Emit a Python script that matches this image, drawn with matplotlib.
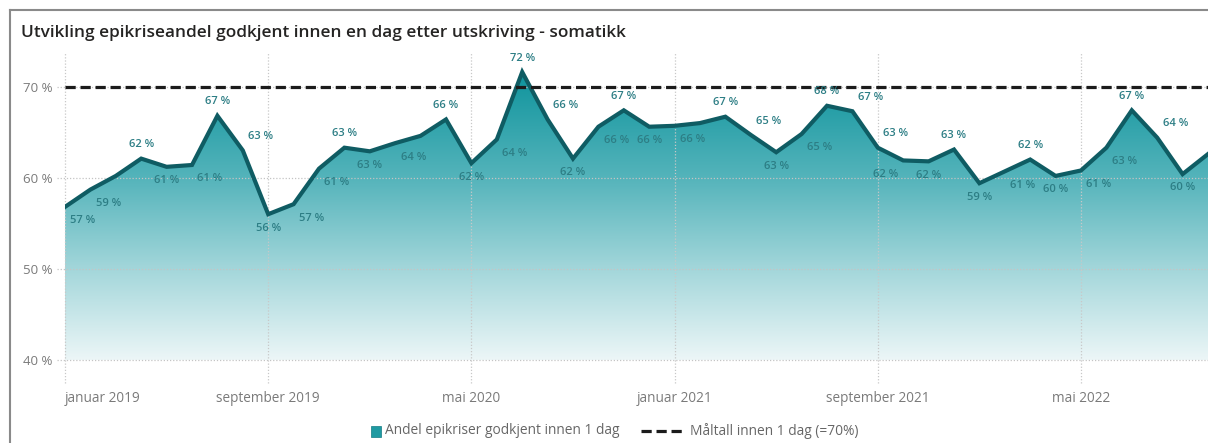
import numpy as np
import matplotlib.pyplot as plt
from matplotlib.colors import LinearSegmentedColormap
from matplotlib.lines import Line2D
from matplotlib.patches import Rectangle

plt.rcParams['font.family'] = ['Open Sans', 'DejaVu Sans']

# månedlig andel epikriser godkjent innen 1 dag (%), jan 2019 - okt 2022
mnd_navn = ["januar", "februar", "mars", "april", "mai", "juni", "juli",
            "august", "september", "oktober", "november", "desember"]
maaneder = [f"{m} {aar}" for aar in (2019, 2020, 2021, 2022) for m in mnd_navn][:46]
andel = [56.8, 58.7, 60.2, 62.1, 61.2, 61.4, 66.8, 63.0, 56.0, 57.1, 61.0, 63.3,
         62.9, 63.8, 64.6, 66.4, 61.6, 64.2, 71.6, 66.4, 62.1, 65.6, 67.4, 65.6,
         65.7, 66.0, 66.7, 64.7, 62.8, 64.8, 67.9, 67.3, 63.3, 61.9, 61.8, 63.1,
         59.4, 60.7, 62.0, 60.2, 60.8, 63.3, 67.4, 64.4, 60.4, 62.6]
# hvor dataetiketten står: a=over, b=under, r=forskjøvet mot høyre, l=mot venstre
etikett = ["br", "br", "", "a", "b", "br", "a", "ar", "b", "br", "br", "a",
           "b", "br", "", "a", "b", "br", "a", "ar", "b", "br", "a", "b",
           "br", "", "a", "ar", "b", "br", "a", "ar", "ar", "bl", "b", "a",
           "b", "br", "a", "b", "br", "br", "a", "ar", "b", ""]
maal = 70
x_ticks = [0, 8, 16, 24, 32, 40]
y_ticks = [40, 50, 60, 70]
serie_navn = ["Andel epikriser godkjent innen 1 dag", "Måltall innen 1 dag (=70%)"]

W, H = 1208, 443
fig = plt.figure(figsize=(W / 100, H / 100), dpi=100)
ax = fig.add_axes([65 / W, 1 - 360 / H, (1208 - 65) / W, (360 - 52) / H])

x = np.arange(len(andel))
ymin, ymax = 40, 73.8
ax.set_xlim(0, len(andel) - 1)
ax.set_ylim(ymin, ymax)

# gradientfyll under kurven
fyll = ax.fill_between(x, andel, ymin, color='none', lw=0)
cmap = LinearSegmentedColormap.from_list(
    'g', [(0, '#ecf6f7'), (0.32, '#a2d6da'), (0.63, '#55b4bb'), (1, '#0f949d')])
grad = np.linspace(0, 1, 256).reshape(-1, 1)
im = ax.imshow(grad, extent=[0, len(andel) - 1, ymin, max(andel)], origin='lower',
               cmap=cmap, aspect='auto', zorder=1, interpolation='bilinear')
im.set_clip_path(fyll.get_paths()[0], transform=ax.transData)

ax.plot(x, andel, color='#0f5c63', lw=3, zorder=4, solid_joinstyle='miter')
ax.axhline(maal, color='#1b1b1b', lw=2.3, dashes=(3.2, 1.5), zorder=5)

# rutenett
for yv in y_ticks:
    ax.axhline(yv, xmin=-8 / 1143, xmax=1, color='#c4c4c4', lw=0.9, ls=(0, (1, 1.5)),
               zorder=2, clip_on=False)
for xv in x_ticks:
    ax.axvline(xv, ymin=-23 / 308, ymax=1, color='#c8c8c8', lw=0.9, ls=(0, (1, 1.5)),
               zorder=2, clip_on=False)

ax.set_yticks(y_ticks)
ax.set_yticklabels([f"{v} %" for v in y_ticks], color='#7a7a7a', fontsize=9.5)
ax.set_xticks(x_ticks)
ax.set_xticklabels([maaneder[i] for i in x_ticks], color='#7a7a7a', fontsize=9.8)
ax.tick_params(axis='y', length=0, pad=9)
ax.tick_params(axis='x', length=0, pad=22)
ax.get_xticklabels()[0].set_horizontalalignment('left')
for s in ax.spines.values():
    s.set_visible(False)

# dataetiketter
for i, (v, pos) in enumerate(zip(andel, etikett)):
    if not pos:
        continue
    dy = 10 if 'a' in pos else -10
    dx = 13 if 'r' in pos else (-13 if 'l' in pos else 0)
    ax.annotate(f"{round(v)} %", (i, v), xytext=(dx, dy), textcoords='offset points',
                ha='center', va='center', fontsize=8, fontweight='semibold',
                color='#2d7e85', zorder=6, annotation_clip=False)

fig.text(21 / W, 1 - 33 / H,
         "Utvikling epikriseandel godkjent innen en dag etter utskriving - somatikk",
         fontsize=12.4, fontweight='semibold', color='#252423', va='center', ha='left')

# ramme
fig.add_artist(Line2D([10 / W, 10 / W], [0, 1 - 10 / H], color='#8a8a8a', lw=1.5,
                      transform=fig.transFigure))
fig.add_artist(Line2D([10 / W, 1], [1 - 10 / H, 1 - 10 / H], color='#8a8a8a', lw=1.5,
                      transform=fig.transFigure))

# forklaring
ly = 1 - 431 / H
fig.add_artist(Rectangle((371 / W, ly - 5.5 / H), 10 / W, 11 / H, facecolor='#1f9aa2',
                         edgecolor='#127b83', lw=0.5, transform=fig.transFigure))
fig.text(385 / W, ly, serie_navn[0], fontsize=9.9, color='#666666', va='center', ha='left')
fig.add_artist(Line2D([641 / W, 684 / W], [ly, ly], color='#1b1b1b', lw=2.3,
                      dashes=(3.2, 1.5), transform=fig.transFigure))
fig.text(690 / W, ly, serie_navn[1], fontsize=9.9, color='#666666', va='center', ha='left')

fig.savefig('out.png', dpi=100)
